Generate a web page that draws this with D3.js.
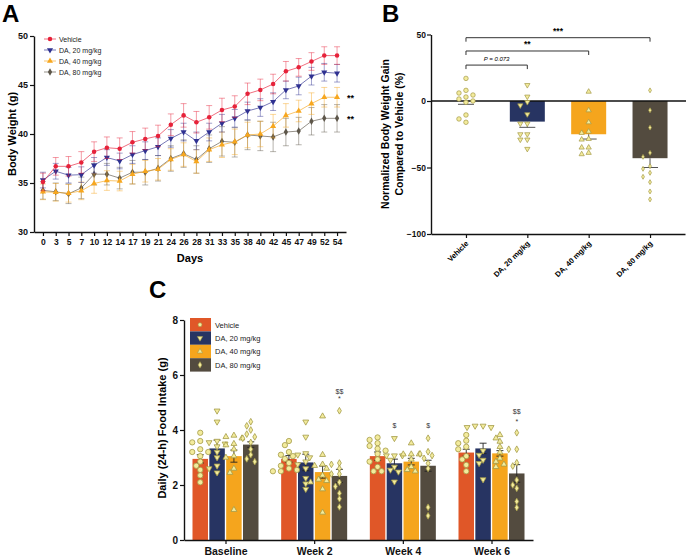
<!DOCTYPE html>
<html>
<head>
<meta charset="utf-8">
<script src="https://cdn.jsdelivr.net/npm/d3@7"></script>
<style>
  body { margin: 0; background: #fff; }
  text { font-family: 'Liberation Sans', Arial, sans-serif; }
  .axis path, .axis line { stroke: #111; }
</style>
</head>
<body>
<script>
// ---------- Panel A: body weight over time ----------
const days = [0,3,5,7,10,12,14,17,19,21,24,26,28,31,33,35,38,40,42,45,47,49,52,54];
const groups = ['Vehicle', 'DA, 20 mg/kg', 'DA, 40 mg/kg', 'DA, 80 mg/kg'];
const weightVehicle = [35.1,36.7,36.7,37.1,38.2,38.6,38.5,39.15,39.5,39.8,40.95,41.9,41.2,41.7,42.45,42.8,44.1,44.5,45.1,46.4,46.8,47.4,48.0,48.0];
const weightDA20 = [35.3,36.2,35.8,35.85,36.8,37.6,37.25,37.9,38.3,38.7,39.55,40.2,39.3,40.2,41.1,41.6,42.35,42.7,43.3,44.5,44.9,45.9,46.3,46.2];
const weightDA40 = [34.1,34.05,33.95,34.2,34.95,35.25,35.2,35.9,36.2,36.4,37.4,37.9,37.2,38.4,38.9,39.2,39.9,40.0,40.8,41.9,42.35,43.1,43.75,43.75];
const weightDA80 = [34.25,34.1,33.9,34.5,35.9,35.9,35.5,36.1,36.1,36.5,37.5,38.0,37.4,38.5,39.25,39.15,39.9,39.8,39.7,40.2,40.3,41.3,41.6,41.6];
const semVehicle = [0.9,0.9,1.0,1.1,1.0,1.1,1.1,1.1,1.1,1.1,1.1,1.2,1.1,1.2,1.2,1.1,1.1,1.1,1.0,1.0,0.9,0.9,0.9,0.9];
const semDA20 = [0.8,0.8,0.8,0.8,0.8,0.8,0.8,0.9,0.9,0.9,0.9,0.9,0.9,0.9,0.9,0.9,0.9,0.9,0.9,0.9,0.9,0.9,0.9,0.9];
const semDA40 = [0.8,0.9,0.9,0.9,1.0,1.0,1.0,1.0,1.1,1.1,1.1,1.2,1.2,1.2,1.3,1.3,1.3,1.3,1.2,1.2,1.1,1.1,1.0,1.0];
const semDA80 = [0.9,0.9,1.0,1.1,1.1,1.1,1.1,1.2,1.3,1.3,1.3,1.4,1.4,1.4,1.5,1.5,1.5,1.5,1.5,1.4,1.4,1.4,1.4,1.4];
const finalStars = ['', '', '**', '**'];

// ---------- Panel B: normalized weight gain ----------
const gainMean = [0, -15.5, -25, -43];
const gainSem = [2.5, 4.3, 3.6, 7];
const gainVehicle = [17, 8, 6, 4.5, 3, 1.5, 0, -1, -10.5, -13.5, -16];
const gainDA20 = [12, 3.3, -0.8, -3.3, -10, -17, -17, -25, -25, -29, -29, -36];
const gainDA40 = [7, -7, -16, -23, -24, -28.5, -29, -35, -35, -39, -40];
const gainDA80 = [8, -7, -20, -39, -42, -49, -51, -54, -57, -61, -68, -74];
const gainBrackets = [
  {to: 1, level: 27, label: 'P = 0.073'},
  {to: 2, level: 37.6, label: '**'},
  {to: 3, level: 47.6, label: '***'}
];

// ---------- Panel C: daily food intake ----------
const periods = ['Baseline', 'Week 2', 'Week 4', 'Week 6'];
const intakeMean = [
  [2.95, 3.33, 3.05, 3.47],
  [2.95, 2.82, 2.47, 2.33],
  [3.05, 2.79, 2.85, 2.70],
  [3.18, 3.33, 3.15, 2.42]
];
const intakeSem = [
  [0.15, 0.30, 0.22, 0.10],
  [0.12, 0.30, 0.22, 0.24],
  [0.15, 0.15, 0.12, 0.20],
  [0.12, 0.19, 0.10, 0.32]
];
const intakePoints = [
  [ [3.9,3.6,3.55,3.3,3.2,3.2,3.05,2.85,2.7,2.55,2.35,2.1],
    [4.7,4.3,3.6,3.55,3.5,3.4,3.2,3.0,2.7,2.6,2.45],
    [3.8,3.75,3.7,3.5,3.45,3.3,3.05,3.0,2.6,2.45,1.1],
    [4.3,4.15,4.0,3.85,3.75,3.7,3.55,3.3,3.1,2.95,2.85] ],
  [ [3.6,3.45,3.2,3.1,3.05,2.95,2.8,2.7,2.6,2.55,2.5,2.5],
    [4.3,3.75,3.15,3.1,3.0,2.85,2.75,2.6,2.25,2.05,1.85],
    [4.5,3.1,2.75,2.7,2.6,2.35,2.2,2.15,2.1,1.85,1.0],
    [4.7,2.8,2.75,2.6,2.4,2.4,2.1,1.95,1.7,1.5,1.2] ],
  [ [3.73,3.64,3.52,3.42,3.32,3.25,3.13,2.93,2.85,2.66,2.5,2.5],
    [3.7,3.07,3.07,3.07,2.91,2.66,2.55,2.48,2.12],
    [3.52,3.12,3.12,3.12,2.93,2.66,2.55,2.5],
    [3.7,3.21,3.13,3.07,2.97,2.79,2.6,1.19,0.88] ],
  [ [3.82,3.61,3.52,3.39,3.3,3.05,2.93,2.73,2.5],
    [4.15,4.15,4.1,4.1,3.25,3.09,2.91,2.79,2.2],
    [3.82,3.7,3.58,3.39,3.19,2.97,2.85,2.75,2.66],
    [3.9,3.3,3.3,2.81,2.69,2.18,2.0,1.88,1.4,1.18] ]
];
// significance marks above bars: [period, group, value, text]
const intakeMarks = [
  [1, 3, 5.12, '*'], [1, 3, 5.39, '$$'],
  [2, 1, 4.15, '$'], [2, 3, 4.15, '$'],
  [3, 3, 4.3, '*'], [3, 3, 4.66, '$$']
];

const lineColors = ['#e6223a', '#2f3191', '#f7a71f', '#5d5649'];
const barColors = ['#e05728', '#273462', '#f5a51d', '#534b3f'];
const dotFill = '#f3eb9c', dotStroke = '#a39a48';
const symbolTypes = [d3.symbolCircle, d3.symbolTriangle, d3.symbolTriangle, d3.symbolDiamond];
const symbolRotate = [0, 180, 0, 0];

const svg = d3.select('body').append('svg')
  .attr('width', 688)
  .attr('height', 557);

function marker(g, i, size) {
  return g.append('path')
    .attr('d', d3.symbol().type(symbolTypes[i]).size(size)())
    .attr('transform', `rotate(${symbolRotate[i]})`);
}

// simple non-random swarm: slide points sideways until they don't overlap
function swarm(vals, yScale, step, minDist) {
  const placed = [];
  return vals.map(v => {
    const y = yScale(v);
    const cands = [0];
    for (let k = 1; k < 8; k++) cands.push(-k * step, k * step);
    let dx = 0;
    for (const c of cands) {
      if (placed.every(p => Math.hypot(p.x - c, p.y - y) >= minDist)) { dx = c; break; }
    }
    placed.push({x: dx, y: y});
    return {v: v, dx: dx, y: y};
  });
}

function styleAxis(g, size) {
  g.attr('class', 'axis');
  g.select('.domain').attr('stroke-width', 1.4);
  g.selectAll('.tick line').attr('stroke-width', 1.2);
  g.selectAll('.tick text').attr('font-size', size).attr('font-weight', 'bold').attr('fill', '#111')
    .attr('font-family', "'Liberation Sans', Arial, sans-serif");
}

// ================= Panel A =================
{
  const seriesVals = [weightVehicle, weightDA20, weightDA40, weightDA80];
  const seriesSem = [semVehicle, semDA20, semDA40, semDA80];

  const x = d3.scalePoint().domain(days).range([34, 346]).padding(0.7);
  const y = d3.scaleLinear().domain([30, 50]).range([232, 36]);

  const gA = svg.append('g');

  gA.append('g')
    .attr('transform', 'translate(0,232)')
    .call(d3.axisBottom(x).tickSize(4).tickSizeOuter(0).tickPadding(3))
    .call(g => styleAxis(g, 8.5));

  gA.append('g')
    .attr('transform', 'translate(34,0)')
    .call(d3.axisLeft(y).tickValues([30, 35, 40, 45, 50]).tickSize(4).tickSizeOuter(0).tickPadding(2))
    .call(g => styleAxis(g, 9));

  // draw back to front: 80, 40, 20, vehicle
  [3, 2, 1, 0].forEach(i => {
    const vals = seriesVals[i], sem = seriesSem[i], col = lineColors[i];
    const pts = days.map((d, j) => ({d: d, v: vals[j], s: sem[j]}));
    const g = gA.append('g');

    const eb = g.selectAll('.eb').data(pts).enter().append('g')
      .attr('stroke', col).attr('stroke-opacity', 0.45).attr('stroke-width', 1);
    eb.append('line')
      .attr('x1', p => x(p.d)).attr('x2', p => x(p.d))
      .attr('y1', p => y(p.v - p.s)).attr('y2', p => y(p.v + p.s));
    eb.append('line')
      .attr('x1', p => x(p.d) - 3).attr('x2', p => x(p.d) + 3)
      .attr('y1', p => y(p.v + p.s)).attr('y2', p => y(p.v + p.s));
    eb.append('line')
      .attr('x1', p => x(p.d) - 3).attr('x2', p => x(p.d) + 3)
      .attr('y1', p => y(p.v - p.s)).attr('y2', p => y(p.v - p.s));

    g.append('path')
      .datum(pts)
      .attr('fill', 'none')
      .attr('stroke', col)
      .attr('stroke-opacity', 0.65)
      .attr('stroke-width', 1)
      .attr('d', d3.line().x(p => x(p.d)).y(p => y(p.v)));

    g.selectAll('.mk').data(pts).enter().append('g')
      .attr('transform', p => `translate(${x(p.d)},${y(p.v)})`)
      .each(function () { marker(d3.select(this), i, 16).attr('fill', col); });

    if (finalStars[i]) {
      gA.append('text')
        .attr('x', x(54) + 10).attr('y', y(vals[vals.length - 1]) + 4)
        .attr('font-size', 9).attr('font-weight', 'bold')
        .text(finalStars[i]);
    }
  });

  // legend
  groups.forEach((name, i) => {
    const ly = 39 + i * 11;
    gA.append('line').attr('x1', 44).attr('x2', 56).attr('y1', ly).attr('y2', ly)
      .attr('stroke', lineColors[i]).attr('stroke-opacity', 0.65);
    marker(gA.append('g').attr('transform', `translate(50,${ly})`), i, 16).attr('fill', lineColors[i]);
    gA.append('text').attr('x', 59).attr('y', ly + 2.5).attr('font-size', 7).attr('fill', '#222').text(name);
  });

  gA.append('text').attr('x', 2).attr('y', 22).attr('font-size', 24).attr('font-weight', 'bold').text('A');
  gA.append('text').attr('x', 190).attr('y', 262).attr('text-anchor', 'middle')
    .attr('font-size', 11).attr('font-weight', 'bold').text('Days');
  gA.append('text').attr('transform', 'translate(16,134) rotate(-90)').attr('text-anchor', 'middle')
    .attr('font-size', 11).attr('font-weight', 'bold').text('Body Weight (g)');
}

// ================= Panel B =================
{
  const pointsB = [gainVehicle, gainDA20, gainDA40, gainDA80];
  const x = d3.scalePoint().domain(groups).range([431, 685]).padding(0.57);
  const y = d3.scaleLinear().domain([-100, 50]).range([234, 34.5]);
  const gB = svg.append('g');
  const bw = 35;

  // bars
  gB.selectAll('.bar').data(groups).enter().append('rect')
    .attr('x', d => x(d) - bw / 2)
    .attr('width', bw)
    .attr('y', (d, i) => Math.min(y(0), y(gainMean[i])))
    .attr('height', (d, i) => Math.abs(y(gainMean[i]) - y(0)))
    .attr('fill', (d, i) => barColors[i]);

  // error bars (downward)
  groups.forEach((d, i) => {
    const lo = y(gainMean[i] - gainSem[i]);
    gB.append('line').attr('x1', x(d)).attr('x2', x(d)).attr('y1', y(gainMean[i])).attr('y2', lo)
      .attr('stroke', '#555').attr('stroke-width', 1);
    gB.append('line').attr('x1', x(d) - 8).attr('x2', x(d) + 8).attr('y1', lo).attr('y2', lo)
      .attr('stroke', '#555').attr('stroke-width', 1);
  });

  // zero line
  gB.append('line').attr('x1', 431).attr('x2', 686).attr('y1', y(0)).attr('y2', y(0))
    .attr('stroke', '#111').attr('stroke-width', 1.4);

  // points
  const sizesB = [16, 12, 12, 7];
  pointsB.forEach((vals, i) => {
    swarm(vals, y, 7, 5).forEach(p => {
      marker(gB.append('g').attr('transform', `translate(${x(groups[i]) + p.dx},${p.y})`), i, sizesB[i])
        .attr('fill', dotFill).attr('stroke', dotStroke).attr('stroke-width', 0.7);
    });
  });

  gB.append('g')
    .attr('transform', 'translate(0,234)')
    .call(d3.axisBottom(x).tickSize(4).tickSizeOuter(0).tickFormat(''))
    .call(g => styleAxis(g, 8));
  gB.append('g')
    .attr('transform', 'translate(431,0)')
    .call(d3.axisLeft(y).tickValues([-100, -50, 0, 50]).tickSize(4).tickSizeOuter(0).tickPadding(1))
    .call(g => styleAxis(g, 8.5));

  groups.forEach(d => {
    gB.append('text')
      .attr('transform', `translate(${x(d) + 3},${244}) rotate(-45)`)
      .attr('text-anchor', 'end')
      .attr('font-size', 7.5).attr('font-weight', 'bold')
      .text(d);
  });

  gainBrackets.forEach(b => {
    const x0 = x(groups[0]), x1 = x(groups[b.to]), yy = y(b.level);
    gB.append('path')
      .attr('d', `M${x0},${yy + 4}V${yy}H${x1}V${yy + 4}`)
      .attr('fill', 'none').attr('stroke', '#333').attr('stroke-width', 1);
    gB.append('text')
      .attr('x', (x0 + x1) / 2).attr('y', yy - 4)
      .attr('text-anchor', 'middle')
      .attr('font-size', b.to === 1 ? 6 : 8.5)
      .attr('font-style', b.to === 1 ? 'italic' : 'normal')
      .attr('font-weight', b.to === 1 ? 'normal' : 'bold')
      .text(b.label);
  });

  gB.append('text').attr('x', 382).attr('y', 22).attr('font-size', 24).attr('font-weight', 'bold').text('B');
  const lab = gB.append('text').attr('transform', 'translate(389,134) rotate(-90)')
    .attr('text-anchor', 'middle').attr('font-size', 10.5).attr('font-weight', 'bold');
  lab.append('tspan').attr('x', 0).attr('dy', 0).text('Normalized Body Weight Gain');
  lab.append('tspan').attr('x', 0).attr('dy', 14).text('Compared to Vehicle (%)');
}

// ================= Panel C =================
{
  const x = d3.scalePoint().domain(periods).range([184, 533]).padding(0.468);
  const xs = d3.scaleBand().domain(d3.range(4)).range([-33, 33]).paddingInner(0.08);
  const y = d3.scaleLinear().domain([0, 8]).range([540, 320]);
  const gC = svg.append('g');
  const sizesC = [22, 15, 15, 13];

  periods.forEach((p, pi) => {
    const gp = gC.append('g').attr('transform', `translate(${x(p)},0)`);
    gp.selectAll('rect').data(intakeMean[pi]).enter().append('rect')
      .attr('x', (d, i) => xs(i))
      .attr('width', xs.bandwidth())
      .attr('y', d => y(d))
      .attr('height', d => y(0) - y(d))
      .attr('fill', (d, i) => barColors[i]);

    intakeMean[pi].forEach((m, i) => {
      const cx = xs(i) + xs.bandwidth() / 2, s = intakeSem[pi][i];
      const eg = gp.append('g').attr('stroke', '#222').attr('stroke-width', 0.9);
      eg.append('line').attr('x1', cx).attr('x2', cx).attr('y1', y(m - s)).attr('y2', y(m + s));
      eg.append('line').attr('x1', cx - 3.5).attr('x2', cx + 3.5).attr('y1', y(m + s)).attr('y2', y(m + s));
      eg.append('line').attr('x1', cx - 3.5).attr('x2', cx + 3.5).attr('y1', y(m - s)).attr('y2', y(m - s));

      swarm(intakePoints[pi][i], y, 4, 5).forEach(pt => {
        marker(gp.append('g').attr('transform', `translate(${cx + pt.dx},${pt.y})`), i, sizesC[i])
          .attr('fill', dotFill).attr('stroke', dotStroke).attr('stroke-width', 0.8);
      });
    });
  });

  intakeMarks.forEach(([pi, gi, v, t]) => {
    gC.append('text')
      .attr('x', x(periods[pi]) + xs(gi) + xs.bandwidth() / 2)
      .attr('y', y(v) + 2)
      .attr('text-anchor', 'middle')
      .attr('font-size', 7).attr('fill', '#333')
      .text(t);
  });

  gC.append('g')
    .attr('transform', 'translate(0,540)')
    .call(d3.axisBottom(x).tickSize(4).tickSizeOuter(0).tickPadding(4))
    .call(g => styleAxis(g, 10.5));
  gC.append('g')
    .attr('transform', 'translate(184,0)')
    .call(d3.axisLeft(y).tickValues([0, 2, 4, 6, 8]).tickSize(4).tickSizeOuter(0).tickPadding(2))
    .call(g => styleAxis(g, 10));

  // legend
  groups.forEach((name, i) => {
    const ly = 318 + i * 13.4;
    gC.append('rect').attr('x', 190).attr('y', ly).attr('width', 21).attr('height', 13.4).attr('fill', barColors[i]);
    marker(gC.append('g').attr('transform', `translate(200,${ly + 6.7})`), i, 12)
      .attr('fill', dotFill).attr('stroke', dotStroke).attr('stroke-width', 0.6);
    gC.append('text').attr('x', 215).attr('y', ly + 9.5).attr('font-size', 7.5).attr('fill', '#222').text(name);
  });

  gC.append('text').attr('x', 149).attr('y', 298).attr('font-size', 24).attr('font-weight', 'bold').text('C');
  gC.append('text').attr('transform', 'translate(166,428) rotate(-90)').attr('text-anchor', 'middle')
    .attr('font-size', 11).attr('font-weight', 'bold').text('Daily (24-h) Food Intake (g)');
}
</script>
</body>
</html>
